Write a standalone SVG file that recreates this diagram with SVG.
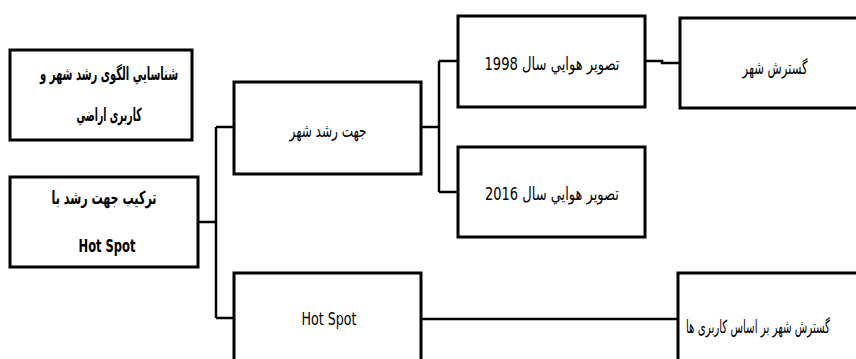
<svg xmlns="http://www.w3.org/2000/svg" width="856" height="359" viewBox="0 0 856 359">
<style>
.box{fill:#fff;stroke:#000;stroke-width:3}
.con{fill:none;stroke:#000;stroke-width:2.5}
.t{font-family:"Liberation Sans Narrow","DejaVu Sans Condensed","DejaVu Sans",sans-serif;font-size:18px;fill:#000;text-anchor:middle;dominant-baseline:central}
.b{font-weight:bold}
</style>
<rect width="856" height="359" fill="#fff"/>
<g id="connectors">
<path class="con" d="M198 222H216M216 127V318M216 127H234M216 318H234"/>
<path class="con" d="M421 127H439M439 61V192M439 61H458M439 192H458"/>
<path class="con" d="M645 61H662V63H680"/>
<path class="con" d="M421 319H678"/>
</g>
<g id="n1">
<rect class="box" x="10" y="50" width="182" height="90"/>
<text class="t b" x="109" y="73" textLength="138" lengthAdjust="spacingAndGlyphs">شناسايي الگوی رشد شهر و</text>
<text class="t b" x="109" y="114" textLength="65" lengthAdjust="spacingAndGlyphs">کاربری اراضي</text>
</g>
<g id="n2">
<rect class="box" x="10" y="177" width="188" height="90"/>
<text class="t b" x="104" y="197" textLength="105" lengthAdjust="spacingAndGlyphs">ترکیب جهت رشد با</text>
<text class="t b" x="107" y="245" textLength="57" lengthAdjust="spacingAndGlyphs">Hot Spot</text>
</g>
<g id="n3">
<rect class="box" x="234" y="82" width="187" height="92"/>
<text class="t" x="328" y="130" textLength="77" lengthAdjust="spacingAndGlyphs">جهت رشد شهر</text>
</g>
<g id="n4">
<rect class="box" x="234" y="273" width="187" height="100"/>
<text class="t" x="329" y="318" textLength="55" lengthAdjust="spacingAndGlyphs">Hot Spot</text>
</g>
<g id="n5">
<rect class="box" x="458" y="16" width="187" height="91"/>
<text class="t" x="552" y="63" textLength="135" lengthAdjust="spacingAndGlyphs">تصویر هوايي سال 1998</text>
</g>
<g id="n6">
<rect class="box" x="458" y="147" width="187" height="90"/>
<text class="t" x="552" y="193" textLength="134" lengthAdjust="spacingAndGlyphs">تصویر هوايي سال 2016</text>
</g>
<g id="n7">
<rect class="box" x="680" y="18" width="200" height="90"/>
<text class="t" x="775" y="67" textLength="65" lengthAdjust="spacingAndGlyphs">گسترش شهر</text>
</g>
<g id="n8">
<rect class="box" x="678" y="273" width="200" height="100"/>
<text class="t" x="758" y="326" textLength="144" lengthAdjust="spacingAndGlyphs">گسترش شهر بر اساس کاربری ها</text>
</g>
</svg>
